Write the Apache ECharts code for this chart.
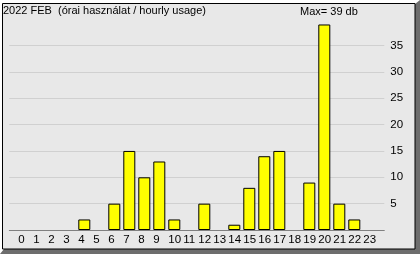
<!DOCTYPE html>
<html><head><meta charset="utf-8">
<script src="https://cdn.jsdelivr.net/npm/echarts@6/dist/echarts.min.js"></script>
<style>html,body{margin:0;padding:0;background:#fff}#c{width:420px;height:254px}</style>
</head><body><div id="c"></div>
<script>
const hours = [0,1,2,3,4,5,6,7,8,9,10,11,12,13,14,15,16,17,18,19,20,21,22,23];
const usage = [0,0,0,0,2,0,5,15,10,13,2,0,5,0,1,8,14,15,0,9,39,5,2,0];
const yTicks = [5,10,15,20,25,30,35];
const titleText = '2022 FEB  (órai használat / hourly usage)';
const maxText = 'Max= 39 db';
const FONT = '"Liberation Sans", Arial, sans-serif';

const chart = echarts.init(document.getElementById('c'), null, {renderer:'canvas'});
const splitColors = [0,5,10,15,20,25,30,35,40].map(v => yTicks.includes(v) ? '#d0d0d0' : 'rgba(0,0,0,0)');
chart.setOption({
  animation:false,
  backgroundColor:'#ffffff',
  graphic:[
    {type:'polygon', z:-10, shape:{points:[[415,4],[420,0],[420,254],[0,254],[4,249],[415,249]]}, style:{fill:'#6d6d6d'}, silent:true},
    {type:'rect', z:-9, shape:{x:2.5,y:3.5,width:412.5,height:245.5}, style:{fill:'#e8e8e8',stroke:'#000',lineWidth:1}, silent:true},
    {type:'text', left:3, top:5, z:10, style:{text:titleText, font:'11px '+FONT, fill:'#000'}},
    {type:'text', left:300, top:6, z:10, style:{text:maxText, font:'11px '+FONT, fill:'#000'}}
  ],
  grid:{left:9.3, width:375, top:19.2, height:210.8, containLabel:false},
  xAxis:{type:'value', min:-1, max:24, interval:1,
    axisLine:{show:true, lineStyle:{color:'#808080', width:1}},
    axisTick:{show:false}, splitLine:{show:false},
    axisLabel:{fontFamily:FONT, fontSize:11.5, color:'#000', margin:4, align:'left', padding:[0,0,0,-6],
      formatter:v => (v>=0 && v<=23) ? String(v) : ''}},
  yAxis:{type:'value', position:'right', min:0, max:40, interval:5,
    axisLine:{show:false}, axisTick:{show:false},
    splitLine:{show:true, lineStyle:{color:splitColors, width:1}},
    axisLabel:{fontFamily:FONT, fontSize:11.5, color:'#000', margin:6,
      formatter:v => yTicks.includes(v) ? String(v) : ''}},
  series:[{type:'bar', barWidth:12,
    data: hours.map((h,i) => [h, usage[i] > 0 ? usage[i] : null]),
    itemStyle:{color:'#ffff00', borderColor:'#000', borderWidth:1}}]
});
</script></body></html>
